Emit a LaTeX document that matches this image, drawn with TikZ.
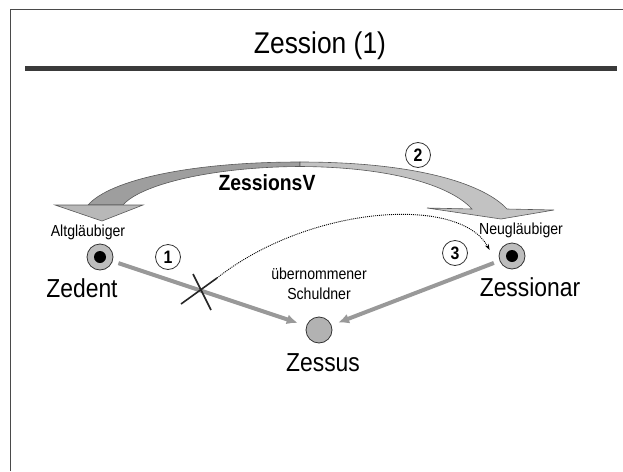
\documentclass[tikz,border=0pt]{standalone}
\usepackage{fontspec}
\setmainfont{Liberation Sans}[FakeStretch=0.88]
\usetikzlibrary{arrows.meta, positioning}

\definecolor{rahmen}{HTML}{4A4A4A}
\definecolor{balken}{HTML}{3A3A3A}
\definecolor{kreis}{HTML}{BDBDBD}
\definecolor{pfeilL}{HTML}{9E9E9E}
\definecolor{spitzeL}{HTML}{B8B8B8}
\definecolor{pfeilR}{HTML}{C2C2C2}

\begin{document}
\begin{tikzpicture}[x=1pt, y=-1pt,
  partei/.style={circle, draw=black!80, fill=kreis, line width=0.8pt, minimum size=26pt, inner sep=0pt},
  kern/.style={circle, fill=black, minimum size=12pt, inner sep=0pt},
  parteiname/.style={font=\fontsize{26}{28}\selectfont},
  rolle/.style={font=\fontsize{16}{20}\selectfont, align=center},
  nummer/.style={circle, draw=black!80, fill=white, line width=0.8pt, minimum size=25pt, inner sep=0pt, font=\bfseries\fontsize{18}{18}\selectfont},
  anspruch/.style={draw=black!40, line width=4pt, -{Latex[length=11pt, width=10pt]}},
  band/.style={draw=black!65, line width=0.6pt},
]
  \useasboundingbox (0,0) rectangle (623,471);

  % Folienrahmen, Titel und Balken
  \draw[rahmen, line width=1.3pt] (10.5,471) -- (10.5,9.5) -- (623,9.5);
  \node[font=\fontsize{30}{31}\selectfont, anchor=base] (titel) at (320,53) {Zession (1)};
  \draw[balken, line width=5pt] (25,68.5) -- (617,68.5);

  % Zessionsvertrag als gebogener Doppelpfeil
  \fill[pfeilL, band] (300,162) .. controls (190,162) and (110,180) .. (88,205)
    -- (123,205) .. controls (140,185) and (210,167) .. (300,166.5) -- cycle;
  \fill[spitzeL, band] (55,205) -- (143,205) -- (102,221) -- cycle;
  \fill[pfeilR, band] (300,162) .. controls (420,162) and (485,185) .. (507,209)
    -- (554,210) -- (501,219) -- (427,208) -- (472,209)
    .. controls (450,185) and (390,167) .. (300,166.5) -- cycle;
  \node[font=\bfseries\fontsize{22}{24}\selectfont] (vertrag) at (267,183) {ZessionsV};

  % Parteien
  \node[partei] (zedent) at (100,257) {};
  \node[kern] at (zedent) {};
  \node[partei] (zessionar) at (512,256) {};
  \node[kern] at (zessionar) {};
  \node[partei, fill=black!30] (zessus) at (319,330) {};

  \node[rolle, above=0pt of zedent, xshift=-12pt] (alt) {Altgläubiger};
  \node[rolle, above=1pt of zessionar, xshift=9pt] (neu) {Neugläubiger};
  \node[rolle, above=13pt of zessus] (schuldner) {übernommener\\Schuldner};
  \node[parteiname, below=5pt of zedent, xshift=-18pt] (zedentname) {Zedent};
  \node[parteiname, below=5pt of zessionar, xshift=18pt] (zessionarname) {Zessionar};
  \node[parteiname, below=7pt of zessus, xshift=4pt] (zessusname) {Zessus};

  % Forderungen
  \draw[anspruch, shorten <=6pt, shorten >=9pt] (zedent) -- (zessus);
  \draw[anspruch, shorten <=6pt, shorten >=7pt] (zessionar) -- (zessus);

  % alte Forderung geht ueber
  \coordinate (kreuz) at (199,291);
  \coordinate (kreuzende) at (217,278);
  \draw[black!85, line width=1.6pt] ([shift={(-18,13)}]kreuz) -- (kreuzende);
  \draw[black!85, line width=1.6pt] ([shift={(-6,-17)}]kreuz) -- ([shift={(12,19)}]kreuz);
  \draw[line width=0.9pt, dash pattern=on 1pt off 1pt, -{Stealth[length=6pt, width=4pt]}]
    (kreuzende) .. controls (310,205) and (460,195) .. ([shift={(-9,-6)}]zessionar.west);

  % Nummern
  \node[nummer] (eins) at (168,257) {1};
  \node[nummer] (zwei) at (418,155) {2};
  \node[nummer] (drei) at (455,253) {3};
\end{tikzpicture}
\end{document}
